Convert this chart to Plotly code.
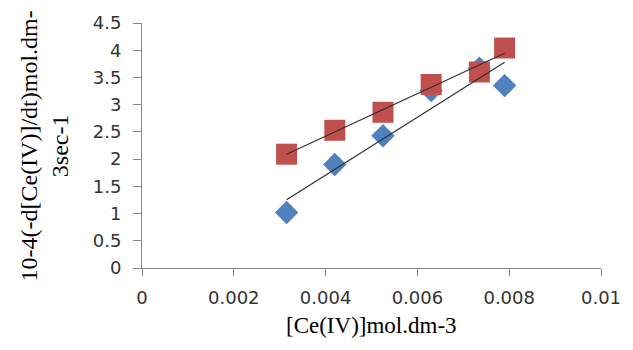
import numpy as np
import plotly.graph_objects as go

# Data
conc = [0.00315, 0.0042, 0.00525, 0.0063, 0.00735, 0.0079]
rate_blue = [1.02, 1.90, 2.43, 3.26, 3.67, 3.35]
rate_red = [2.09, 2.53, 2.86, 3.37, 3.60, 4.04]

x_title = "[Ce(IV)]mol.dm-3"
y_title = "10-4(-d[Ce(IV)]/dt)mol.dm-<br>3sec-1"

BLUE = "#4F81BD"
RED = "#C0504D"
AXIS = "#868686"

fig = go.Figure()

fig.add_trace(go.Scatter(
    x=conc, y=rate_blue, mode="markers",
    marker=dict(symbol="diamond", size=18, color=BLUE, line=dict(width=0)),
    showlegend=False))
fig.add_trace(go.Scatter(
    x=conc, y=rate_red, mode="markers",
    marker=dict(symbol="square", size=21, color=RED, line=dict(width=0)),
    showlegend=False))

# Linear trendlines (least squares fits of each series)
xa = np.array(conc)
for ys in (rate_blue, rate_red):
    m, b = np.polyfit(xa, np.array(ys), 1)
    xs = [xa.min(), xa.max()]
    fig.add_trace(go.Scatter(
        x=xs, y=[m * v + b for v in xs], mode="lines",
        line=dict(color="#303030", width=1.2), showlegend=False,
        hoverinfo="skip"))

tickfont = dict(family="DejaVu Sans", size=18, color="#333333")

fig.update_layout(
    width=633, height=350,
    margin=dict(l=142, r=24, t=21, b=82),
    paper_bgcolor="white", plot_bgcolor="white",
    xaxis=dict(range=[0, 0.01], dtick=0.002, tick0=0, showgrid=False,
               zeroline=False, showline=True, linecolor=AXIS, linewidth=1,
               ticks="outside", ticklen=7, tickcolor=AXIS, tickwidth=1,
               tickfont=tickfont, ticklabelstandoff=6, tickformat="~g"),
    yaxis=dict(range=[0, 4.5], dtick=0.5, tick0=0, showgrid=False,
               zeroline=False, showline=True, linecolor=AXIS, linewidth=1,
               ticks="outside", ticklen=8, tickcolor=AXIS, tickwidth=1,
               tickfont=tickfont, ticklabelstandoff=8),
    annotations=[
        dict(text=x_title, xref="paper", yref="paper", x=0.5, y=0,
             xanchor="center", yanchor="middle", yshift=-57, showarrow=False,
             font=dict(family="Liberation Serif", size=23, color="#000000")),
        dict(text=y_title, xref="paper", yref="paper", x=0, y=0.5,
             xanchor="center", yanchor="middle", xshift=-98, yshift=-1,
             textangle=-90, showarrow=False, align="center",
             font=dict(family="Liberation Serif", size=24, color="#000000")),
    ],
)

fig.write_html("out.html")
